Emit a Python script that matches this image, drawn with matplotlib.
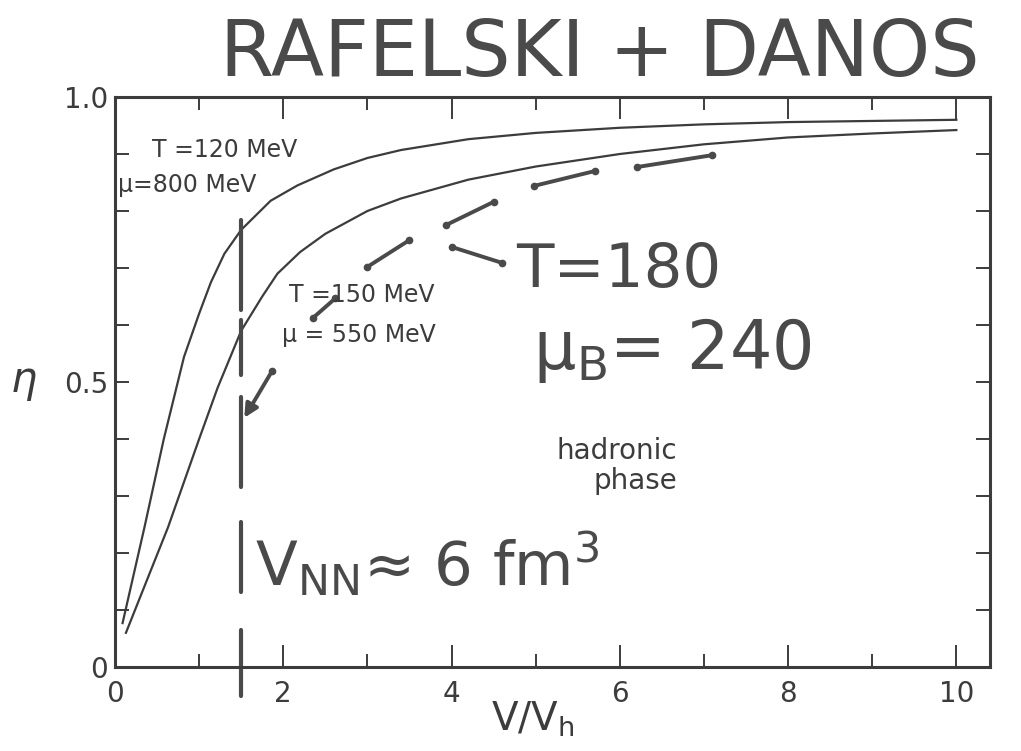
import matplotlib
matplotlib.use("Agg")
import matplotlib.pyplot as plt
from matplotlib.ticker import MultipleLocator, FixedLocator

plt.rcParams["mathtext.default"] = "regular"

# ---- data ----
upper_x = [0.09, 0.35, 0.58, 0.82, 1.0, 1.14, 1.3, 1.5, 1.85, 2.17, 2.6, 3.0, 3.4, 4.2, 5.0, 6.0, 7.0, 8.0, 9.0, 10.0]
upper_y = [0.077, 0.245, 0.40, 0.544, 0.62, 0.675, 0.725, 0.767, 0.818, 0.845, 0.873, 0.893, 0.907, 0.926, 0.937, 0.946, 0.952, 0.956, 0.958, 0.96]
lower_x = [0.13, 0.4, 0.63, 1.0, 1.22, 1.5, 1.75, 1.93, 2.2, 2.5, 3.0, 3.4, 4.2, 5.0, 6.0, 7.0, 8.0, 9.0, 10.0]
lower_y = [0.06, 0.16, 0.245, 0.40, 0.49, 0.59, 0.65, 0.69, 0.728, 0.76, 0.80, 0.822, 0.855, 0.878, 0.90, 0.917, 0.929, 0.936, 0.942]

# hand-drawn vertical dashed line at V/Vh = 1.5 (segment start/end in eta)
vline_x = 1.5
vline_y0 = [0.784, 0.609, 0.474, 0.254, 0.065]
vline_y1 = [0.626, 0.512, 0.316, 0.132, -0.05]

# hand-drawn dashed curve (T=180, mu_B=240) segments
hseg_x0 = [2.35, 3.0, 3.93, 4.98, 6.2, 4.0]
hseg_y0 = [0.612, 0.702, 0.775, 0.844, 0.877, 0.737]
hseg_x1 = [2.62, 3.5, 4.5, 5.7, 7.1, 4.6]
hseg_y1 = [0.647, 0.749, 0.816, 0.87, 0.898, 0.709]
arrow_from = (1.87, 0.52)
arrow_to = (1.52, 0.433)

x_tick_labels = ["0", "2", "4", "6", "8", "10"]
x_tick_vals = [0, 2, 4, 6, 8, 10]
y_tick_labels = ["0", "0.5", "1.0"]
y_tick_vals = [0, 0.5, 1.0]

ink = "#3c3c3c"
pen = "#4a4a4a"

fig = plt.figure(figsize=(10.21, 7.51), dpi=100)
ax = fig.add_axes([115 / 1021, 1 - 667 / 751, 875 / 1021, 570 / 751])
ax.set_xlim(0, 10.4)
ax.set_ylim(0, 1.0)

for sp in ax.spines.values():
    sp.set_linewidth(2.2)
    sp.set_color(ink)

ax.plot(upper_x, upper_y, color=ink, lw=1.6)
ax.plot(lower_x, lower_y, color=ink, lw=1.6)

# ticks
ax.xaxis.set_major_locator(FixedLocator(x_tick_vals))
ax.xaxis.set_minor_locator(MultipleLocator(1))
ax.yaxis.set_major_locator(FixedLocator(y_tick_vals))
ax.yaxis.set_minor_locator(MultipleLocator(0.1))
ax.tick_params(axis="x", which="major", direction="in", length=16, width=1.4,
               top=True, bottom=True, color=ink, pad=9, labelsize=20, labelcolor=ink)
ax.tick_params(axis="x", which="minor", direction="in", length=9.5, width=1.4,
               top=True, bottom=True, color=ink)
ax.tick_params(axis="y", which="both", direction="in", length=10, width=1.4,
               left=True, right=True, color=ink, pad=5, labelsize=20, labelcolor=ink)
ax.set_xticklabels(x_tick_labels)
ax.set_yticklabels(y_tick_labels)

# axis labels
ax.text(-0.104, 0.503, "η", transform=ax.transAxes, fontsize=30, color=ink,
        ha="center", va="center", style="italic")
ax.text(0.477, -0.092, r"V/V$_{h}$", transform=ax.transAxes, fontsize=28,
        color=ink, ha="center", va="center")

# printed annotations
ann = dict(fontsize=17, color=ink, va="center")
ax.text(0.44, 0.907, "T =120 MeV", ha="left", **ann)
ax.text(0.03, 0.846, "μ=800 MeV", ha="left", **ann)
ax.text(2.07, 0.653, "T =150 MeV", ha="left", **ann)
ax.text(1.99, 0.582, "μ = 550 MeV", ha="left", **ann)
ax.text(6.68, 0.352, "hadronic\nphase", fontsize=20, color=ink, ha="right", va="center",
        linespacing=1.1)

# hand-drawn vertical dashed line
for y0, y1 in zip(vline_y0, vline_y1):
    ax.plot([vline_x, vline_x], [y0, y1], color=pen, lw=3.0,
            solid_capstyle="round", clip_on=False)

# hand-drawn dashed curve segments
for x0, y0, x1, y1 in zip(hseg_x0, hseg_y0, hseg_x1, hseg_y1):
    ax.plot([x0, x1], [y0, y1], color=pen, lw=2.8, marker="o", ms=4.5,
            solid_capstyle="round")
ax.annotate("", xy=arrow_to, xytext=arrow_from,
            arrowprops=dict(arrowstyle="-|>", color=pen, lw=2.8, mutation_scale=20))
ax.plot([arrow_from[0]], [arrow_from[1]], "o", color=pen, ms=4.5)

# handwritten notes
ax.text(5.99, 0.695, "T=180", fontsize=44, color=pen, ha="center", va="center")
ax.text(6.62, 0.556, r"μ$_{B}$= 240", fontsize=48, color=pen, ha="center", va="center")
ax.text(3.71, 0.18, r"V$_{NN}$≈ 6 fm$^{3}$", fontsize=44, color=pen, ha="center", va="center")
fig.text(600 / 1021, 1 - 54 / 751, "RAFELSKI + DANOS", fontsize=56, color=pen,
         ha="center", va="center")

fig.savefig("out.png", dpi=100, facecolor="white")
